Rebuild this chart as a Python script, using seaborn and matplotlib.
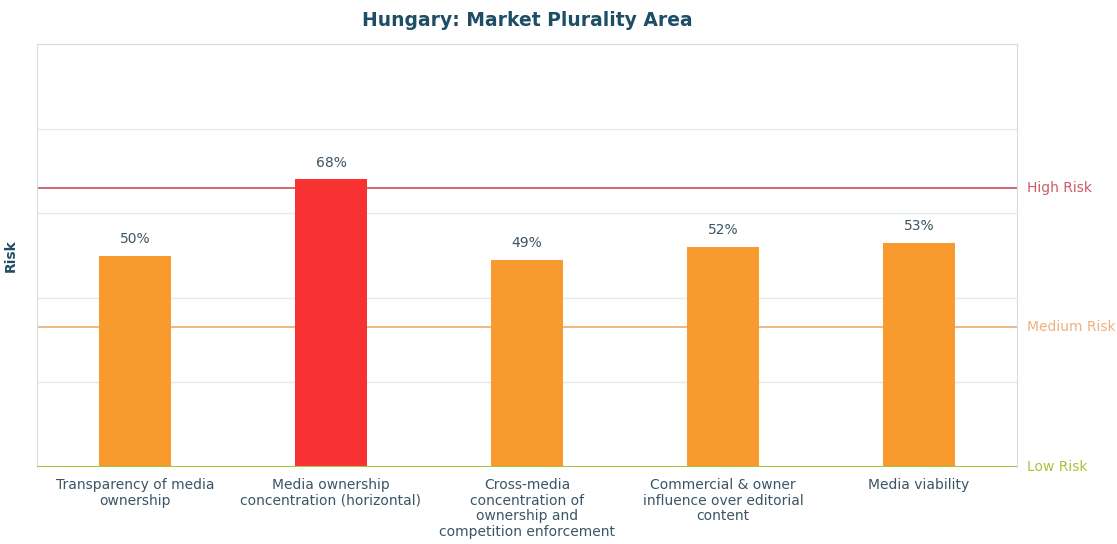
import matplotlib.pyplot as plt
import pandas as pd
import seaborn as sns

# Data
categories = [
    "Transparency of media\nownership",
    "Media ownership\nconcentration (horizontal)",
    "Cross-media\nconcentration of\nownership and\ncompetition enforcement",
    "Commercial & owner\ninfluence over editorial\ncontent",
    "Media viability",
]
risk_values = [50, 68, 49, 52, 53]
risk_levels = ["Medium", "High", "Medium", "Medium", "Medium"]
thresholds = {"Low Risk": 0, "Medium Risk": 33, "High Risk": 66}

df = pd.DataFrame({"indicator": categories, "risk": risk_values, "level": risk_levels})

sns.set_style("white")
plt.rcParams["font.family"] = ["DejaVu Sans"]

text_color = "#3b5566"
title_color = "#1e4d66"
bar_colors = {"Medium": "#f99a2e", "High": "#f83232"}
line_colors = {"Low Risk": "#a9c23f", "Medium Risk": "#efb27a", "High Risk": "#cf5a66"}

fig = plt.figure(figsize=(11.17, 5.44), dpi=100)
ax = fig.add_axes([0.0331, 0.1415, 0.8774, 0.7775])

# Threshold lines sit behind the bars
for name, val in thresholds.items():
    ax.axhline(val, color=line_colors[name], linewidth=1.5 if val == 0 else 1.3,
               zorder=1 if val > 0 else 3)
    ax.annotate(name, xy=(1, val), xycoords=("axes fraction", "data"),
                xytext=(7, 0), textcoords="offset points",
                va="center", ha="left", fontsize=10, color=line_colors[name])

sns.barplot(data=df, x="indicator", y="risk", hue="level", palette=bar_colors,
            width=0.37, dodge=False, legend=False, saturation=1, linewidth=0,
            zorder=2, ax=ax)

ax.set_ylim(0, 100)
ax.set_yticks([20, 40, 60, 80])
ax.set_yticklabels([])
ax.tick_params(axis="y", length=0)
ax.tick_params(axis="x", length=0, labelsize=10, labelcolor=text_color, pad=8)
for lbl in ax.get_xticklabels():
    lbl.set_linespacing(1.15)
ax.yaxis.grid(True, color="#e6e9ec", linewidth=1)
ax.set_axisbelow(True)
for side in ["top", "right", "left"]:
    ax.spines[side].set_color("#d5dde2")
ax.spines["bottom"].set_visible(False)

# Value labels
for i, v in enumerate(risk_values):
    ax.annotate(f"{v}%", xy=(i, v), xytext=(0, 7), textcoords="offset points",
                ha="center", va="bottom", fontsize=10, color=text_color)

ax.set_xlabel("")
ax.set_ylabel("Risk", fontsize=10, fontweight="bold", color=title_color, labelpad=10)
ax.set_title("Hungary: Market Plurality Area", fontsize=13.5, fontweight="bold",
             color=title_color, pad=13)

fig.savefig("out.png", dpi=100)
